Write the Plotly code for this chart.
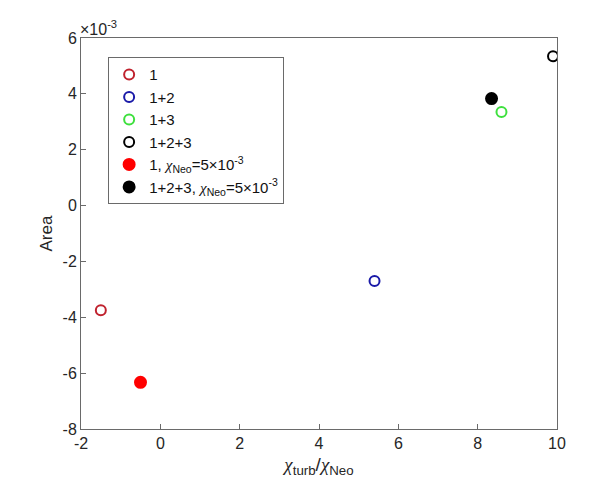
import plotly.graph_objects as go

CHI = '<span style="font-family:Liberation Serif"><i>χ</i></span>'

# Data (Area values in absolute units)
names = ["1", "1+2", "1+3", "1+2+3",
         "1, " + CHI + "<sub>Neo</sub>=5×10<sup>-3</sup>",
         "1+2+3, " + CHI + "<sub>Neo</sub>=5×10<sup>-3</sup>"]
x_vals = [-1.5, 5.4, 8.6, 9.9, -0.5, 8.35]
area_vals = [-3.75e-3, -2.7e-3, 3.35e-3, 5.35e-3, -6.33e-3, 3.83e-3]
colors = ["#c0222e", "#1a1aa8", "#3ee03e", "#000000", "#ff0000", "#000000"]
filled = [False, False, False, False, True, True]

x_ticks = [-2, 0, 2, 4, 6, 8, 10]
x_ticktext = ["-2", "0", "2", "4", "6", "8", "10"]
y_ticks = [-8e-3, -6e-3, -4e-3, -2e-3, 0, 2e-3, 4e-3, 6e-3]
y_ticktext = ["-8", "-6", "-4", "-2", "0", "2", "4", "6"]

fig = go.Figure()
for n, xv, yv, c, f in zip(names, x_vals, area_vals, colors, filled):
    fig.add_trace(go.Scatter(
        x=[xv], y=[yv], mode="markers", name=n,
        marker=dict(symbol="circle" if f else "circle-open",
                    size=11 if f else 10, color=c,
                    line=dict(width=2, color=c)),
    ))

axis_col = "#6a6a6a"
txt_col = "#262626"
fam = "Liberation Sans, Arial"
common = dict(showline=True, linecolor=axis_col, linewidth=1, mirror=True,
              ticks="inside", ticklen=5, tickcolor=axis_col, showgrid=False,
              zeroline=False, tickfont=dict(size=16, color=txt_col, family=fam))

fig.update_xaxes(range=[-2, 10], tickvals=x_ticks, ticktext=x_ticktext, **common,
                 title=dict(text=CHI + "<sub>turb</sub>/" + CHI + "<sub>Neo</sub>",
                            font=dict(size=19, color=txt_col, family=fam), standoff=6))
fig.update_yaxes(range=[-8e-3, 6e-3], tickvals=y_ticks, ticktext=y_ticktext, **common,
                 title=dict(text="Area", font=dict(size=17, color=txt_col, family=fam),
                            standoff=5))

fig.add_annotation(x=0, y=1, xref="paper", yref="paper", xanchor="left", yanchor="bottom",
                   text="×10<sup>-3</sup>", showarrow=False, xshift=-3, yshift=-2,
                   font=dict(size=16, color=txt_col, family=fam))

fig.update_layout(
    width=615, height=488,
    margin=dict(l=73, r=66, t=30, b=67),
    plot_bgcolor="white", paper_bgcolor="white",
    font=dict(family=fam, color=txt_col),
    legend=dict(x=0.057, y=0.951, xanchor="left", yanchor="top",
                bordercolor=axis_col, borderwidth=1, bgcolor="white",
                font=dict(size=15, color="#111111", family=fam), tracegroupgap=0,
                itemwidth=30),
    showlegend=True,
)

fig.write_html("out.html")
